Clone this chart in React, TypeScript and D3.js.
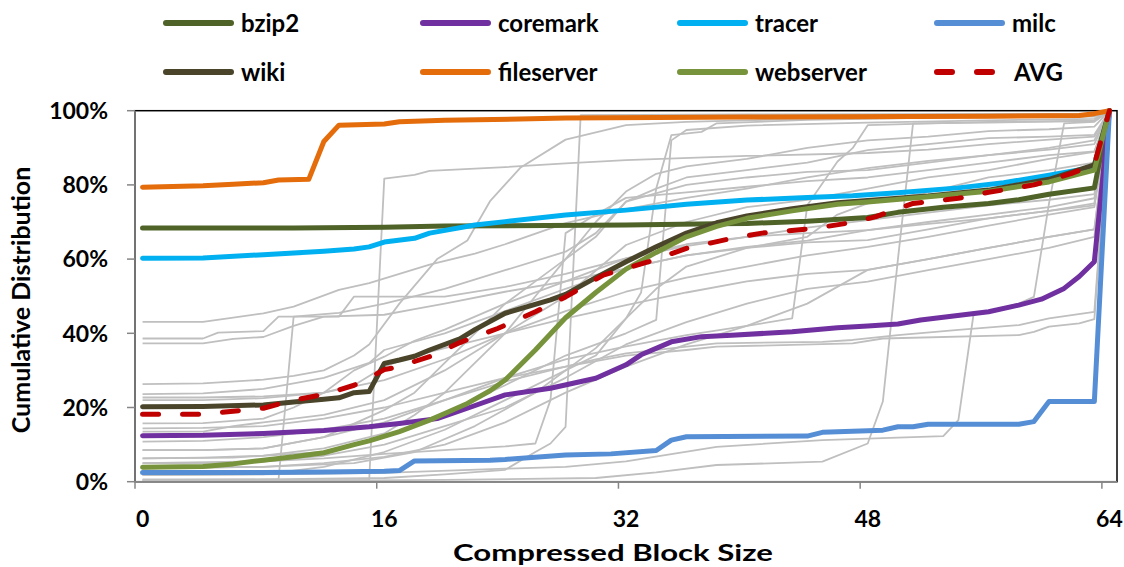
import React, { useRef, useEffect } from 'react';
import * as d3 from 'd3';

type Pt = [number, number];

// block size (0..64) -> cumulative %
const xTicks = [0, 16, 32, 48, 64];
const yTicks = [0, 20, 40, 60, 80, 100];

const bzip2: Pt[] = [[0, 68.4], [10, 68.4], [16, 68.6], [20, 68.9], [32, 69.2], [38, 69.5], [40, 69.6], [44, 70.2], [48, 71.2], [50, 72.6], [53, 74], [56, 75], [58, 76], [60, 77.5], [63, 79.2], [64, 100]];
const coremark: Pt[] = [[0, 12.4], [4, 12.5], [8, 13], [12, 13.8], [15, 14.8], [17, 15.7], [19.5, 17], [21.5, 19.8], [24, 23.4], [27, 25.2], [30, 27.9], [32, 31.5], [33, 34.2], [35, 37.7], [37, 39.1], [39, 39.5], [43, 40.4], [46, 41.5], [48, 42], [50, 42.5], [51.5, 43.6], [56, 45.8], [58, 47.6], [59.5, 49.2], [61, 52.1], [62, 55.3], [63, 59.3], [64, 100]];
const tracer: Pt[] = [[0, 60.2], [4, 60.3], [8, 61.2], [12, 62.1], [14, 62.7], [15, 63.3], [16, 64.6], [18, 65.6], [19, 67], [22, 69.2], [24, 70.1], [28, 71.9], [32, 73.2], [36, 74.8], [40, 75.9], [44, 76.6], [47, 77.1], [50, 77.9], [54, 79.2], [57, 80.6], [60, 82.6], [63, 84.8], [64, 100]];
const milc: Pt[] = [[0, 2.5], [8, 2.5], [12, 2.6], [16, 2.8], [17, 3], [18, 5.6], [23, 5.8], [24, 6], [28, 7.2], [31, 7.5], [34, 8.4], [35, 11.2], [36, 12.1], [44, 12.3], [45, 13.3], [49, 13.9], [50, 14.8], [51, 14.8], [52, 15.5], [58, 15.5], [59, 16.2], [60, 21.6], [63, 21.6], [64, 100]];
const wiki: Pt[] = [[0, 20.2], [4, 20.3], [8, 20.7], [10, 21.5], [12, 22.2], [13, 22.6], [14, 24], [15, 24.3], [16, 31.9], [17, 32.8], [18, 33.8], [19, 35.5], [21, 38.5], [22, 41], [24, 45.4], [27, 49], [28, 50.5], [30, 55], [32, 59.3], [34, 63.3], [36, 67], [38, 69.8], [40, 71.6], [43, 73.6], [46, 75.2], [48, 75.8], [52, 77], [56, 78.6], [60, 81.5], [63, 85.4], [64, 100]];
const fileserver: Pt[] = [[0, 79.4], [4, 79.8], [6, 80.2], [8, 80.6], [9, 81.3], [11, 81.5], [12, 91.7], [13, 96.1], [16, 96.4], [17, 97], [20, 97.4], [28, 98], [40, 98.3], [56, 98.5], [62, 98.7], [63, 99.2], [64, 100]];
const webserver: Pt[] = [[0, 3.9], [4, 4.1], [6, 4.8], [8, 5.8], [10, 6.7], [12, 7.8], [14, 10], [15, 11], [17, 13.5], [19, 16.6], [20, 18.4], [21.5, 21.1], [23, 24.5], [24, 27.4], [26, 35.5], [28, 44.2], [30, 51], [32, 57.3], [34, 61.8], [36, 66], [38, 68.8], [40, 71], [43, 73], [46, 74.8], [48, 75.4], [52, 76.8], [56, 78.3], [60, 80.8], [63, 84], [64, 100]];
const avg: Pt[] = [[0, 18.2], [4, 18.2], [8, 19.8], [10, 22], [12, 23.5], [14, 26], [15, 28], [16, 30.2], [17, 31], [18, 32.4], [19, 33.7], [21, 37.5], [23.5, 41.3], [26, 45.8], [28, 49.8], [30.5, 55.7], [33.5, 59.3], [36, 62.9], [39, 65.6], [41, 67], [44.5, 68.3], [47, 69.9], [48.5, 71.4], [51, 75], [54, 76.4], [56, 78], [59, 80], [61.5, 83.1], [63, 85.5], [64, 100]];

// other benchmarks (grey)
const g01: Pt[] = [[0, 43.1], [4, 43.1], [6, 44.2], [8, 45.4], [10, 47.2], [13, 51.7], [15, 53.5], [19, 58.5], [22, 61.5], [24, 64], [28, 69.7], [32, 73.5], [36, 76.5], [40, 79], [44, 82], [48, 84.5], [52, 86.5], [56, 88], [60, 89.5], [63, 91], [64, 100]];
const g02: Pt[] = [[0, 38.6], [4, 38.6], [5, 40.2], [8, 40.6], [9, 44.5], [13, 44.5], [14, 49.9], [20, 49.9], [24, 52.5], [28, 56], [32, 60.2], [36, 63.5], [40, 66], [44, 68.5], [48, 70.5], [52, 72.5], [56, 74.5], [60, 76], [63, 77.5], [64, 100]];
const g03: Pt[] = [[0, 37.3], [4, 37.3], [6, 38.5], [8, 39], [10, 42], [12, 44.5], [16, 45], [18, 46.5], [20, 48], [24, 51.2], [28, 54], [32, 57.5], [36, 61], [40, 63.3], [44, 65], [48, 67.8], [52, 69.5], [56, 71], [60, 73], [63, 74.5], [64, 100]];
const g04: Pt[] = [[0, 0.6], [9, 0.6], [10, 44.5], [13, 45.5], [16, 48], [20, 52], [24, 57], [28, 62], [30, 67], [32, 75.5], [36, 80], [40, 82], [44, 83.5], [48, 84], [52, 86], [56, 88], [60, 90], [63, 92], [64, 100]];
const g05: Pt[] = [[0, 0.4], [15, 0.4], [16, 81.7], [18, 82.7], [19, 83.8], [24, 84.8], [28, 85.8], [32, 86.7], [40, 87.8], [48, 88.6], [52, 89.5], [56, 91], [60, 92.2], [63, 93], [64, 100]];
const g06: Pt[] = [[0, 26.3], [4, 26.5], [8, 27.5], [10, 28.5], [12, 30], [14, 34], [15, 37], [17, 48], [19.5, 60], [21.5, 65], [23, 75.6], [25, 84.6], [28, 92.2], [32, 96.1], [36, 97], [44, 97.8], [56, 98.2], [63, 98.4], [64, 100]];
const g07: Pt[] = [[0, 0.4], [8, 0.6], [16, 1], [20, 2], [24, 3.2], [26, 8], [27, 10.3], [28, 14.8], [29, 98.8], [40, 99], [63, 99.2], [64, 100]];
const g08: Pt[] = [[0, 5], [8, 5.5], [12, 6.3], [16, 7.5], [20, 8.5], [24, 9.5], [26, 10.3], [27, 22], [28, 67], [30, 72], [32, 76.5], [36, 78], [40, 79.5], [44, 81], [48, 82], [52, 84], [56, 86], [60, 88], [63, 89], [64, 100]];
const g09: Pt[] = [[0, 3.6], [8, 4], [14, 5], [18, 8], [22, 15], [26, 24], [30, 36], [32, 44], [33, 51], [34, 79], [35, 93.4], [37, 94.3], [38, 96.6], [44, 97.5], [56, 98.4], [63, 98.6], [64, 100]];
const g10: Pt[] = [[0, 6.3], [6, 6.5], [12, 8], [16, 12], [20, 18.5], [24, 26], [28, 34], [32, 40], [34, 43.6], [35, 92], [36, 94.8], [40, 96], [48, 96.8], [56, 97.4], [63, 97.8], [64, 100]];
const g11: Pt[] = [[0, 8.5], [4, 8.5], [8, 9], [12, 12], [16, 16], [20, 22], [24, 28], [28, 33], [32, 36.5], [36, 39.5], [40, 42], [43, 44], [44, 74.5], [46, 86.3], [47, 89.9], [48, 96.1], [56, 97], [63, 97.3], [64, 100]];
const g12: Pt[] = [[0, 0.2], [10, 0.2], [20, 0.5], [30, 1], [34, 2.5], [38, 4.5], [45, 5.4], [48, 10.3], [49, 21.6], [50, 60], [51, 96.6], [56, 96.8], [63, 97.2], [64, 100]];
const g13: Pt[] = [[0, 1.8], [8, 2], [16, 2.4], [24, 3.5], [28, 4], [32, 5.5], [38, 9.4], [45, 11.2], [53, 12.3], [54, 16.6], [55, 45], [58, 48], [59, 49.8], [60, 75], [61, 96.6], [63, 97], [64, 100]];
const g14: Pt[] = [[0, 14.4], [4, 14.5], [8, 15], [12, 17], [16, 20], [20, 24], [24, 28], [28, 31], [30, 33], [32, 34.6], [36, 36.4], [38, 37.3], [45, 37.7], [47, 38.2], [50, 39.5], [54, 40.9], [58, 42.2], [60, 44], [63, 45.8], [64, 100]];
const g15: Pt[] = [[0, 10.8], [4, 11], [8, 12], [12, 14], [16, 17], [20, 22], [24, 27], [28, 31], [32, 34], [36, 35.5], [38, 36.4], [47, 37.3], [49, 38.6], [58, 39.5], [59, 40.4], [60, 41.8], [62, 42.7], [63, 43.8], [64, 100]];
const g16: Pt[] = [[0, 22.7], [4, 22.7], [8, 23], [12, 24], [14, 26], [16, 31], [18, 34], [20, 36], [24, 40], [28, 44], [32, 47.6], [36, 51], [40, 54], [44, 56], [48, 57.1], [52, 60], [56, 63], [60, 66], [63, 68], [64, 100]];
const g17: Pt[] = [[0, 22], [4, 22], [8, 22.5], [12, 24], [16, 27.4], [20, 33], [24, 40], [28, 46], [32, 51.2], [36, 55], [40, 58], [44, 61], [48, 63.3], [52, 66], [56, 69], [60, 72], [63, 74], [64, 100]];
const g18: Pt[] = [[0, 23.6], [4, 23.8], [8, 25], [12, 28], [15, 32], [16, 35.5], [20, 40], [24, 46], [28, 52], [32, 57.5], [36, 61], [40, 63], [44, 64.5], [48, 65.1], [52, 68], [56, 71], [60, 73], [63, 75], [64, 100]];
const g19: Pt[] = [[0, 15.7], [4, 15.8], [8, 17], [10, 20], [12, 24], [14, 30], [16, 33.7], [18, 38], [20, 41], [24, 48], [28, 54], [32, 60.2], [36, 64], [40, 66], [44, 67], [48, 67.8], [52, 70], [56, 72], [60, 74], [63, 76.4], [64, 100]];
const g20: Pt[] = [[0, 13.5], [4, 13.5], [6, 15], [8, 16], [12, 18], [16, 22], [20, 30], [24, 40], [28, 50], [32, 63.8], [36, 70], [40, 74], [44, 76], [48, 79], [52, 82], [56, 84], [60, 87], [63, 88.9], [64, 100]];
const g21: Pt[] = [[0, 8.5], [4, 8.5], [8, 9], [12, 12], [16, 19.3], [18, 24], [20, 32], [22, 40], [24, 48], [26, 54], [28, 60], [30, 66], [32, 75.5], [34, 79], [36, 82], [40, 84], [44, 86], [48, 89.4], [52, 91], [56, 92.6], [60, 93], [63, 93.5], [64, 100]];
const g22: Pt[] = [[0, 6.3], [4, 6.5], [8, 7], [12, 9], [14, 11], [16, 13], [18, 18], [20, 24], [22, 32], [24, 40], [26, 50], [28, 60], [30, 70], [32, 78.2], [34, 83], [36, 85], [40, 87], [44, 90], [48, 92], [52, 93], [56, 94.5], [60, 95], [63, 95.7], [64, 100]];
const g23: Pt[] = [[0, 1.8], [8, 2], [12, 4], [16, 8], [20, 14], [24, 22], [28, 30], [30, 34], [32, 44], [34, 52], [36, 58], [40, 63], [44, 66], [46, 72], [48, 75], [52, 78], [56, 82], [60, 84], [63, 86], [64, 100]];
const g24: Pt[] = [[0, 5], [4, 5], [8, 5.5], [12, 7], [16, 10], [20, 15], [24, 20], [28, 28], [32, 37], [36, 43], [40, 48], [44, 52], [48, 53.9], [52, 57], [56, 60], [60, 63], [63, 66], [64, 100]];
const g25: Pt[] = [[0, 3.6], [8, 4], [12, 5], [16, 6.7], [20, 10], [24, 16], [28, 24], [32, 31], [36, 37], [40, 42], [44, 48], [48, 57.1], [52, 60], [56, 63], [60, 66], [63, 68], [64, 100]];

const others = [g01, g02, g03, g04, g05, g06, g07, g08, g09, g10, g11, g12, g13, g14, g15, g16, g17, g18, g19, g20, g21, g22, g23, g24, g25];

const series = [
  { name: 'bzip2', color: '#4F6228', values: bzip2 },
  { name: 'coremark', color: '#7030A0', values: coremark },
  { name: 'tracer', color: '#00B0F0', values: tracer },
  { name: 'milc', color: '#558ED5', values: milc },
  { name: 'wiki', color: '#4A452A', values: wiki },
  { name: 'fileserver', color: '#E46C0A', values: fileserver },
  { name: 'webserver', color: '#77933C', values: webserver },
  { name: 'AVG', color: '#C00000', values: avg, dashed: true },
];

const App = () => {
  const ref = useRef<SVGSVGElement>(null);

  useEffect(() => {
    if (!ref.current) return;
    const svg = d3.select(ref.current);
    svg.selectAll('*').remove();

    const left = 135, right = 1117, top = 110.7, bottom = 481.7;
    const font = 'Lato, sans-serif';
    const x = d3.scaleLinear().domain([-0.5, 64.5]).range([left, right]);
    const y = d3.scaleLinear().domain([0, 100]).range([bottom, top]);
    const line = d3.line<Pt>().x(d => x(d[0])).y(d => y(d[1]));

    // plot frame: black top/right, grey axes
    svg.append('rect')
      .attr('x', left).attr('y', top)
      .attr('width', right - left).attr('height', bottom - top)
      .attr('fill', 'none').attr('stroke', '#000').attr('stroke-width', 1.5);

    svg.append('g').selectAll('path')
      .data(others)
      .join('path')
      .attr('d', d => line(d))
      .attr('fill', 'none')
      .attr('stroke', '#BFBFBF')
      .attr('stroke-width', 1.8)
      .attr('stroke-linejoin', 'round');

    svg.append('line').attr('x1', left).attr('x2', left).attr('y1', top).attr('y2', bottom)
      .attr('stroke', '#868686').attr('stroke-width', 1.5);
    svg.append('line').attr('x1', left).attr('x2', right).attr('y1', bottom).attr('y2', bottom)
      .attr('stroke', '#868686').attr('stroke-width', 1.5);

    // y axis
    const yg = svg.append('g');
    yg.selectAll('line').data(yTicks).join('line')
      .attr('x1', left - 8).attr('x2', left)
      .attr('y1', d => y(d)).attr('y2', d => y(d))
      .attr('stroke', '#868686').attr('stroke-width', 1.5);
    yg.selectAll('text').data(yTicks).join('text')
      .attr('x', 108).attr('y', d => y(d)).attr('dy', '0.36em')
      .attr('text-anchor', 'end')
      .style('font', `bold 23px ${font}`)
      .text(d => `${d}%`);

    // x axis
    const xg = svg.append('g');
    xg.selectAll('line').data(xTicks).join('line')
      .attr('x1', d => x(d - 0.5)).attr('x2', d => x(d - 0.5))
      .attr('y1', bottom).attr('y2', bottom + 7)
      .attr('stroke', '#868686').attr('stroke-width', 1.5);
    xg.selectAll('text').data(xTicks).join('text')
      .attr('x', d => x(d)).attr('y', 526.5)
      .attr('text-anchor', 'middle')
      .style('font', `bold 23px ${font}`)
      .text(d => d);

    svg.append('text')
      .attr('transform', 'translate(30,300) rotate(-90)')
      .attr('text-anchor', 'middle')
      .style('font', `bold 25px ${font}`)
      .text('Cumulative Distribution');

    svg.append('text')
      .attr('x', 613).attr('y', 561)
      .attr('text-anchor', 'middle')
      .attr('textLength', 320).attr('lengthAdjust', 'spacingAndGlyphs')
      .style('font', `bold 23px ${font}`)
      .text('Compressed Block Size');

    // highlighted series
    svg.append('g').selectAll('path')
      .data(series)
      .join('path')
      .attr('d', d => line(d.values))
      .attr('fill', 'none')
      .attr('stroke', d => d.color)
      .attr('stroke-width', 5)
      .attr('stroke-linejoin', 'round')
      .attr('stroke-linecap', 'round')
      .attr('stroke-dasharray', d => (d.dashed ? '16 24' : null));

    // legend, 4 per row
    const colX = [163, 420, 677, 934];
    const rowY = [23, 72];
    const leg = svg.append('g').selectAll('g')
      .data(series)
      .join('g')
      .attr('transform', (d, i) => `translate(${colX[i % 4]},${rowY[Math.floor(i / 4)]})`);
    leg.append('line')
      .attr('x1', 3).attr('x2', 68)
      .attr('stroke', d => d.color)
      .attr('stroke-width', 6)
      .attr('stroke-linecap', 'round')
      .attr('stroke-dasharray', d => (d.dashed ? '15 25' : null));
    leg.append('text')
      .attr('x', d => (d.dashed ? 80 : 78)).attr('dy', '0.36em')
      .style('font', `bold 24px ${font}`)
      .text(d => d.name);
  }, []);

  return <svg ref={ref} width={1124} height={567} style={{ position: 'absolute', left: 0, top: 0 }} />;
};

export default App;
